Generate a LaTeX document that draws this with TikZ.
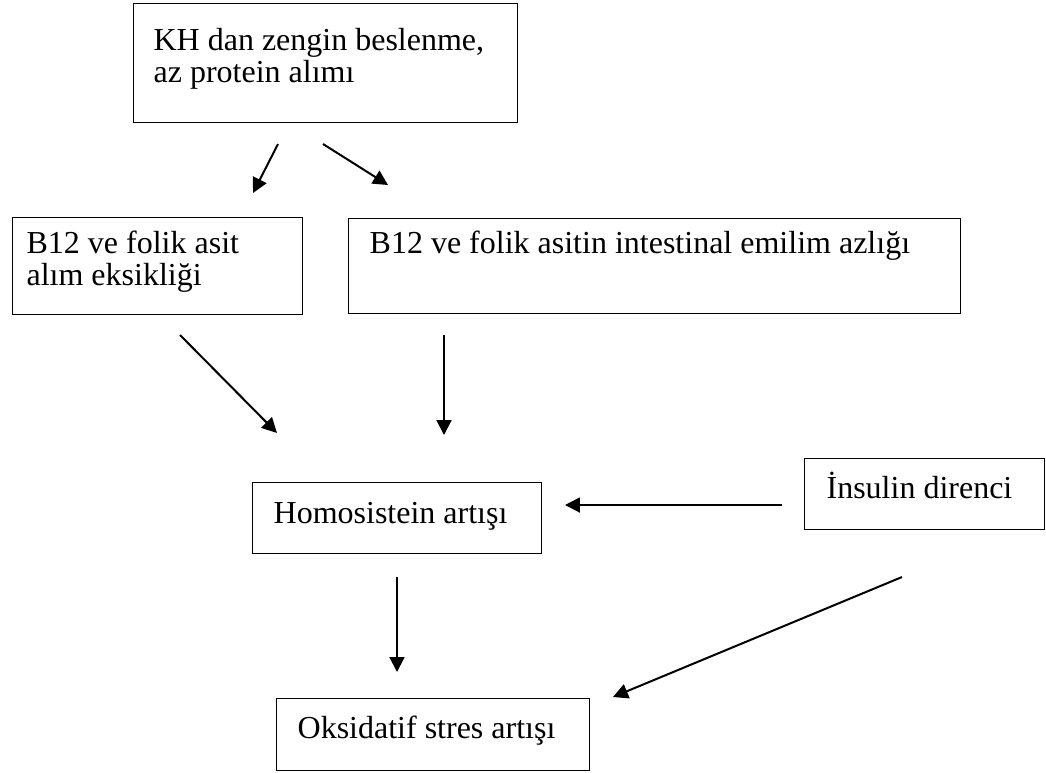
\documentclass[tikz,border=0pt]{standalone}
\usepackage{fontspec}
\setmainfont{Liberation Serif}
\usetikzlibrary{arrows.meta}

\tikzstyle{box} = [draw, rectangle, line width=.45pt, anchor=north west, align=left, inner ysep=0pt, font=\fontsize{12}{12}\selectfont, execute at begin node={\spaceskip=0pt\relax}]
\tikzstyle{link} = [->, line width=.75pt]

\begin{document}
\begin{tikzpicture}[x=.375pt,y=-.375pt,>={Triangle[length=5.6pt,width=5.6pt]}]
  \useasboundingbox (0,0) rectangle (1046,772);

  \node [box, inner xsep=7.5pt, text width=129pt, text height=17.6pt, text depth=27pt] (kh) at (133,3) {KH dan zengin beslenme,\\az protein alımı};

  \node [box, inner xsep=5.25pt, text width=98.25pt, text height=13.5pt, text depth=22.9pt] (intake) at (12,217) {B12 ve folik asit\\alım eksikliği};
  \node [box, inner xsep=7.9pt, text width=213.7pt, text height=13.1pt, text depth=22.5pt] (absorb) at (348,218) {B12 ve folik asitin intestinal emilim azlığı};

  \node [box, inner xsep=7.9pt, text width=92.6pt, text height=15.4pt, text depth=11.25pt] (hcy) at (252,482) {Homosistein artışı};
  \node [box, inner xsep=8.25pt, text width=73.5pt, text height=15pt, text depth=11.6pt] (ins) at (804,458) {İnsulin direnci};

  \node [box, inner xsep=7.9pt, text width=101.6pt, text height=15pt, text depth=12pt] (oks) at (276,698) {Oksidatif stres artışı};

  \coordinate (kh_l) at (278,144);
  \coordinate (intake_t) at (253,193);
  \coordinate (kh_r) at (323,144);
  \coordinate (absorb_t) at (388,185);
  \coordinate (intake_b) at (180,335);
  \coordinate (hcy_tl) at (277,433);
  \coordinate (absorb_b) at (444,335);
  \coordinate (hcy_t) at (444,435);
  \coordinate (ins_l) at (782,505);
  \coordinate (hcy_r) at (565,505);
  \coordinate (hcy_b) at (397,577);
  \coordinate (oks_t) at (397,672);
  \coordinate (ins_b) at (902,577);
  \coordinate (oks_r) at (613,697);

  \draw [link] (kh_l) -- (intake_t);
  \draw [link] (kh_r) -- (absorb_t);
  \draw [link] (intake_b) -- (hcy_tl);
  \draw [link] (absorb_b) -- (hcy_t);
  \draw [link] (ins_l) -- (hcy_r);
  \draw [link] (hcy_b) -- (oks_t);
  \draw [link] (ins_b) -- (oks_r);
\end{tikzpicture}
\end{document}
